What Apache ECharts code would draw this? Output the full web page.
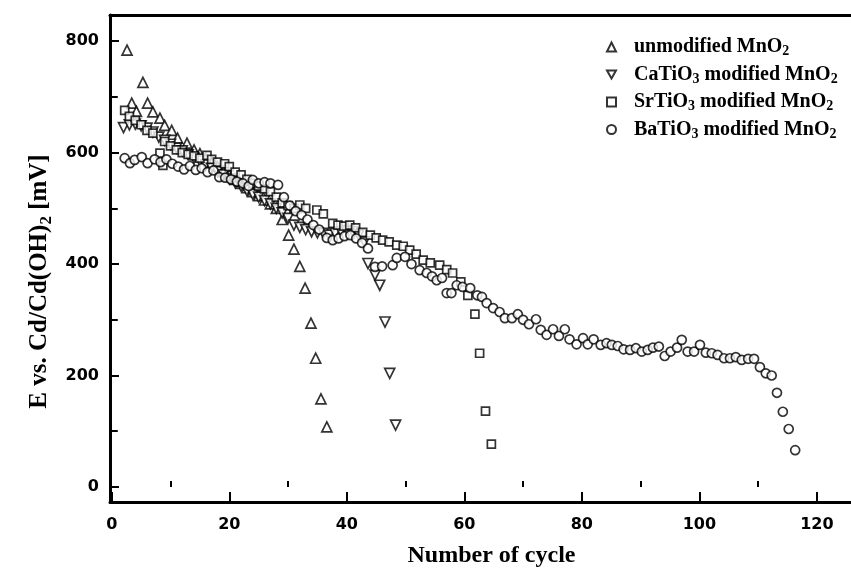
<!DOCTYPE html>
<html>
<head>
<meta charset="utf-8">
<script src="https://cdn.jsdelivr.net/npm/echarts@6/dist/echarts.min.js"></script>
<style>
  html, body { margin: 0; padding: 0; background: #fff; }
  #chart { width: 851px; height: 577px; }
</style>
</head>
<body>
<div id="chart"></div>
<script>
// values (cycle number, potential in mV)
const unmodX = [2.6, 3.4, 4.2, 5.3, 6.1, 7, 8.2, 9, 10.2, 11.2, 12.8, 14, 15, 16, 17, 18, 19, 20, 21, 22, 23, 24, 25, 26, 27, 28, 29, 30.1, 31, 32, 32.9, 33.9, 34.7, 35.6, 36.6]
const unmodY = [784, 689, 674, 726, 689, 673, 662, 649, 640, 626, 617, 605, 598, 590, 583, 575, 566, 560, 552, 545, 537, 530, 523, 515, 508, 500, 480, 452, 427, 396, 357, 294, 231, 158, 108]

const caX = [2, 3, 4, 5, 6, 7, 8, 9, 10, 11, 12, 13, 14, 15, 16, 17, 18, 19, 20, 21, 22, 23, 24, 25, 26, 27, 28, 29, 30, 31, 32, 33, 34, 35, 36, 37, 38, 39, 40, 41, 42, 43, 43.6, 44.8, 45.6, 46.5, 47.3, 48.3]
const caY = [645, 650, 651, 648, 644, 637, 628, 622, 615, 608, 603, 596, 590, 585, 578, 572, 566, 560, 553, 546, 540, 532, 525, 520, 514, 508, 500, 492, 482, 470, 466, 462, 458, 456, 455, 452, 455, 458, 460, 458, 452, 440, 401, 380, 362, 296, 204, 111]

const srX = [2.2, 3, 4, 5, 6, 7, 8.2, 8.7, 9, 10, 11, 12, 13, 14, 15, 16.2, 17, 18, 19.2, 20, 21, 22, 23, 24, 25, 26, 27, 28, 29, 30, 31, 32, 33, 34.9, 36, 37.6, 38.5, 39.5, 40.5, 41.5, 42.7, 44, 45, 46.1, 47.2, 48.5, 49.6, 50.7, 51.8, 53, 54.2, 55.8, 57, 58, 59.4, 60.6, 61.8, 62.6, 63.6, 64.6]
const srY = [676, 665, 658, 650, 640, 635, 599, 577, 620, 612, 605, 600, 597, 594, 590, 595, 588, 583, 580, 575, 565, 560, 552, 545, 540, 535, 530, 520, 510, 505, 500, 506, 500, 497, 490, 473, 470, 468, 470, 465, 457, 452, 447, 443, 440, 434, 432, 425, 418, 407, 402, 398, 390, 384, 368, 344, 310, 240, 136, 77]

const baX = [2.2, 3.1, 3.9, 5.1, 6.1, 7.3, 8.3, 9.3, 10.3, 11.3, 12.3, 13.3, 14.3, 15.3, 16.3, 17.3, 18.3, 19.3, 20.3, 21.3, 22.3, 23.3, 24, 25, 26, 27, 28.3, 29.3, 30.3, 31.3, 32.3, 33.3, 34.3, 35.3, 36.6, 37.6, 38.6, 39.6, 40.6, 41.6, 42.6, 43.6, 44.8, 46, 47.8, 48.5, 49.9, 51, 52.4, 53.6, 54.5, 55.3, 56.2, 57, 57.8, 58.7, 59.7, 61, 62.2, 63, 63.8, 64.9, 66, 66.9, 68.1, 69.1, 70, 71, 72.2, 73, 74, 75.1, 76.1, 77.1, 77.9, 79.1, 80.2, 81, 82, 83.2, 84.2, 85.1, 86.1, 87.1, 88.2, 89.2, 90.2, 91.2, 92.1, 93.1, 94.1, 95.1, 96.2, 97, 98, 99.1, 100.1, 101.1, 102.1, 103.1, 104.2, 105.2, 106.2, 107.2, 108.3, 109.3, 110.3, 111.3, 112.3, 113.2, 114.2, 115.2, 116.3]
const baY = [590, 581, 587, 592, 581, 588, 583, 588, 580, 575, 570, 576, 569, 572, 565, 568, 556, 555, 552, 548, 545, 540, 551, 545, 547, 545, 542, 520, 505, 495, 488, 480, 470, 462, 447, 443, 446, 450, 452, 446, 438, 428, 395, 396, 398, 411, 413, 400, 389, 384, 378, 371, 375, 348, 348, 362, 359, 357, 344, 341, 330, 321, 314, 303, 303, 310, 300, 292, 301, 282, 273, 283, 271, 283, 265, 256, 267, 256, 265, 255, 258, 255, 253, 247, 246, 249, 243, 246, 250, 252, 235, 243, 250, 264, 243, 243, 255, 241, 240, 237, 231, 231, 233, 228, 230, 230, 215, 204, 200, 169, 135, 104, 66]

const xMajor = [0, 20, 40, 60, 80, 100, 120]
const xMinor = [10, 30, 50, 70, 90, 110]
const yMajor = [0, 200, 400, 600, 800]
const yMinor = [100, 300, 500, 700]

const names = ['unmodified MnO2', 'CaTiO3 modified MnO2', 'SrTiO3 modified MnO2', 'BaTiO3 modified MnO2']
const richNames = [
  '{t|unmodified MnO}{s|2}',
  '{t|CaTiO}{s|3}{t| modified MnO}{s|2}',
  '{t|SrTiO}{s|3}{t| modified MnO}{s|2}',
  '{t|BaTiO}{s|3}{t| modified MnO}{s|2}'
]

const zip = (xs, ys) => xs.map((x, i) => [x, ys[i]])

const serif = '"Liberation Serif", "DejaVu Serif", serif'
const sans = '"DejaVu Sans", "Liberation Sans", sans-serif'

const openMark = {color: '#fff', borderColor: '#000', borderWidth: 1.7}
// upside-down triangle
const downTri = 'path://M0,0 L10,0 L5,9 Z'

const option = {
  backgroundColor: '#fff',
  animation: false,
  grid: {left: 110, right: 0, top: 15, bottom: 75},
  legend: {
    orient: 'vertical',
    left: 601,
    top: 32,
    itemWidth: 9,
    itemHeight: 9,
    itemGap: 6,
    data: names,
    formatter: name => richNames[names.indexOf(name)],
    textStyle: {
      padding: [0, 0, 0, 13],
      rich: {
        t: {fontFamily: serif, fontWeight: 'bold', fontSize: 20, color: '#000', lineHeight: 23},
        s: {fontFamily: serif, fontWeight: 'bold', fontSize: 14, color: '#000', lineHeight: 23, verticalAlign: 'bottom'}
      }
    }
  },
  xAxis: [
    {
      type: 'value', min: -0.3, max: 125.8,
      name: 'Number of cycle', nameLocation: 'middle', nameGap: 42,
      nameTextStyle: {fontFamily: serif, fontWeight: 'bold', fontSize: 24, color: '#000', padding: [0, 0, 0, 22]},
      axisLine: {onZero: false, lineStyle: {color: '#000', width: 3}},
      axisTick: {inside: true, length: 10, lineStyle: {width: 2, color: '#000'}, customValues: xMajor},
      axisLabel: {customValues: xMajor, margin: 15, fontFamily: sans, fontWeight: 'bold', fontSize: 16, color: '#000'},
      splitLine: {show: false}
    },
    {
      type: 'value', min: -0.3, max: 125.8, position: 'bottom',
      axisLine: {show: false},
      axisTick: {inside: true, length: 6, lineStyle: {width: 2, color: '#000'}, customValues: xMinor},
      axisLabel: {show: false},
      splitLine: {show: false}
    },
    {
      type: 'value', min: -0.3, max: 125.8, position: 'top',
      axisLine: {onZero: false, lineStyle: {color: '#000', width: 3}},
      axisTick: {show: false},
      axisLabel: {show: false},
      splitLine: {show: false}
    }
  ],
  yAxis: [
    {
      type: 'value', min: -27, max: 847,
      name: '{t|E vs. Cd/Cd(OH)}{s|2}{t| [mV]}', nameLocation: 'middle', nameGap: 48, nameRotate: 90,
      nameTextStyle: {
        padding: [0, 46, 0, 0],
        rich: {
          t: {fontFamily: serif, fontWeight: 'bold', fontSize: 25, color: '#000', lineHeight: 30},
          s: {fontFamily: serif, fontWeight: 'bold', fontSize: 17, color: '#000', lineHeight: 30, verticalAlign: 'bottom'}
        }
      },
      axisLine: {onZero: false, lineStyle: {color: '#000', width: 3}},
      axisTick: {inside: true, length: 9, lineStyle: {width: 2, color: '#000'}, customValues: yMajor},
      axisLabel: {customValues: yMajor, margin: 11, fontFamily: sans, fontWeight: 'bold', fontSize: 16, color: '#000'},
      splitLine: {show: false}
    },
    {
      type: 'value', min: -27, max: 847, position: 'left',
      axisLine: {show: false},
      axisTick: {inside: true, length: 6, lineStyle: {width: 2, color: '#000'}, customValues: yMinor},
      axisLabel: {show: false},
      splitLine: {show: false}
    }
  ],
  series: [
    {name: names[0], type: 'scatter', symbol: 'triangle', symbolSize: 10, itemStyle: openMark, data: zip(unmodX, unmodY)},
    {name: names[1], type: 'scatter', symbol: downTri, symbolSize: 10, itemStyle: openMark, data: zip(caX, caY)},
    {name: names[2], type: 'scatter', symbol: 'rect', symbolSize: 8, itemStyle: openMark, data: zip(srX, srY)},
    {name: names[3], type: 'scatter', symbol: 'circle', symbolSize: 9, itemStyle: openMark, data: zip(baX, baY)}
  ]
}

let chart = echarts.init(document.getElementById('chart'))
chart.setOption(option)
</script>
</body>
</html>
